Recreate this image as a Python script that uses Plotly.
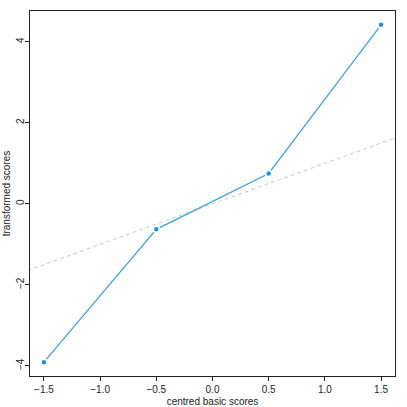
import plotly.graph_objects as go

basic_scores = [-1.5, -0.5, 0.5, 1.5]
transformed_scores = [-3.91, -0.63, 0.75, 4.42]
identity_x = [-2, 2]
identity_y = [-2, 2]
x_ticks = [-1.5, -1.0, -0.5, 0.0, 0.5, 1.0, 1.5]
y_ticks = [-4, -2, 0, 2, 4]

fig = go.Figure()

# y = x reference line
fig.add_trace(go.Scatter(x=identity_x, y=identity_y, mode="lines",
                         line=dict(color="#c8c8c8", width=1, dash="4px,3px"),
                         hoverinfo="skip"))

# type="b" look: white ring around points leaves a small gap in the line
fig.add_trace(go.Scatter(x=basic_scores, y=transformed_scores, mode="lines+markers",
                         line=dict(color="#3ba0e6", width=1.2),
                         marker=dict(color="#1e90f0", size=6,
                                     line=dict(color="white", width=1.5))))

axis_common = dict(showgrid=False, zeroline=False, showline=True, mirror=True,
                   linecolor="#222222", linewidth=1, ticks="outside", ticklen=4,
                   tickcolor="#222222", tickfont=dict(size=10, color="#222222"),
                   automargin=False)

fig.update_xaxes(range=[-1.624, 1.624], tickvals=x_ticks,
                 ticktext=["\u22121.5", "\u22121.0", "\u22120.5", "0.0", "0.5", "1.0", "1.5"],
                 title=dict(text="centred basic scores", font=dict(size=10, color="#222222"),
                            standoff=4),
                 **axis_common)
fig.update_yaxes(range=[-4.25, 4.76], tickvals=y_ticks,
                 ticktext=["\u22124", "\u22122", "0", "2", "4"], tickangle=-90,
                 ticklabelstandoff=-3,
                 title=dict(text="transformed scores", font=dict(size=10, color="#222222"),
                            standoff=2),
                 **axis_common)

fig.update_layout(width=407, height=407, showlegend=False,
                  margin=dict(l=30, r=12, t=11, b=31),
                  plot_bgcolor="white", paper_bgcolor="white",
                  font=dict(family="Liberation Sans, Arial, sans-serif"))

# drop the browser's default 8px body margin so the figure sits at the corner
fig.write_html("out.html", config={"displayModeBar": False},
               post_script="document.body.style.margin='0';")
